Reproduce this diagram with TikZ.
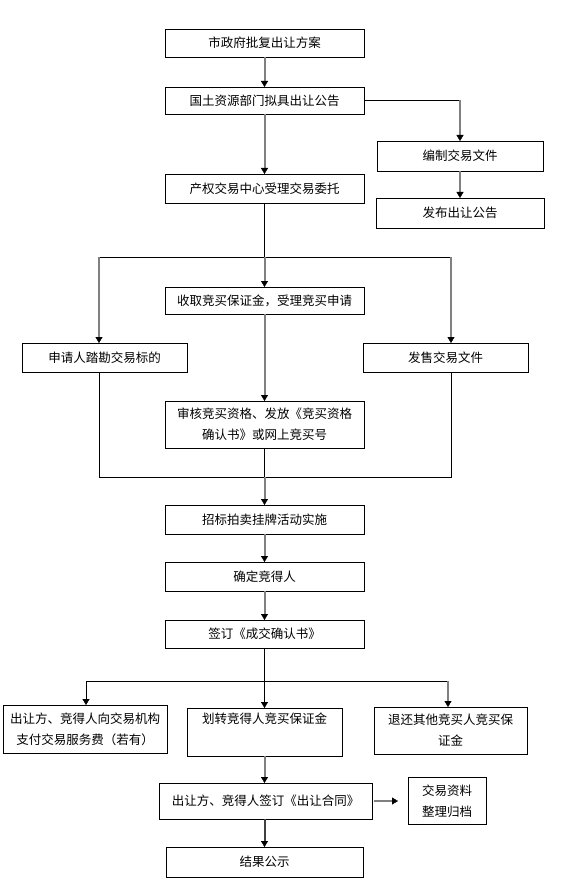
\documentclass[tikz,border=0pt]{standalone}
\usepackage{fontspec}
\setmainfont{Noto Sans CJK SC}
\usetikzlibrary{arrows.meta,positioning,calc}
\definecolor{flowgray}{RGB}{128,128,128}
\definecolor{flowdark}{RGB}{64,64,64}
\tikzset{
  stepbox/.style={draw, line width=0.9pt, align=center, inner sep=2pt, outer sep=0pt,
    minimum height=29pt},
  flow/.style={-{Triangle[width=7pt,length=6pt,line width=0.4pt,color=black]},
    line width=2pt, draw=flowgray},
  blackflow/.style={-{Triangle[width=7pt,length=6pt,line width=0.4pt,color=black]},
    line width=0.9pt, draw=black},
  link/.style={line width=0.9pt, draw=black}
}

\begin{document}
\begin{tikzpicture}[x=1pt, y=1pt, font=\fontsize{12.5}{21}\selectfont]
  \useasboundingbox (0,0) rectangle (587,-882);
  \node[stepbox, minimum width=199pt, minimum height=28pt] (shifu) at (264.5,-43) {市政府批复出让方案};
  \node[stepbox, minimum width=199pt, minimum height=27pt, below=30pt of shifu] (guotu) {国土资源部门拟具出让公告};
  \node[stepbox, minimum width=199pt, below=60pt of guotu] (chanquan) {产权交易中心受理交易委托};
  \node[stepbox, minimum width=166pt, minimum height=30pt] (bianzhi) at (460,-156) {编制交易文件};
  \node[stepbox, minimum width=168pt, minimum height=30pt, below=27pt of bianzhi] (fabu) {发布出让公告};
  \node[stepbox, minimum width=199pt, minimum height=27pt, below=84pt of chanquan] (shouqu) {收取竞买保证金，受理竞买申请};
  \node[stepbox, minimum width=165pt] (shenqing) at (104.5,-357.5) {申请人踏勘交易标的};
  \node[stepbox, minimum width=165pt] (fashou) at (445.5,-357.5) {发售交易文件};
  \node[stepbox, minimum width=199pt, minimum height=47pt, below=87pt of shouqu] (shenhe) {审核竞买资格、发放《竞买资格\\确认书》或网上竞买号};
  \node[stepbox, minimum width=199pt, below=57pt of shenhe] (zhaobiao) {招标拍卖挂牌活动实施};
  \node[stepbox, minimum width=199pt, below=28pt of zhaobiao] (queding) {确定竞得人};
  \node[stepbox, minimum width=199pt, minimum height=28pt, below=29pt of queding] (qianding) {签订《成交确认书》};
  \node[stepbox, minimum width=164pt, minimum height=48pt] (zhichu) at (85,-729) {出让方、竞得人向交易机构\\支付交易服务费（若有）};
  \node[stepbox, minimum width=155pt, minimum height=48pt, below=60pt of qianding] (huazhuan) {划转竞得人竞买保证金\\\strut};
  \node[stepbox, minimum width=153pt, minimum height=47pt] (tuihuan) at (450.5,-730.5) {退还其他竞买人竞买保\\证金};
  \node[stepbox, minimum width=213pt, minimum height=36pt, below=27pt of huazhuan, xshift=1pt] (hetong) {出让方、竞得人签订《出让合同》};
  \node[stepbox, minimum width=78pt, minimum height=47pt, right=36pt of hetong] (ziliao) {交易资料\\整理归档};
  \node[stepbox, minimum width=197pt, minimum height=30pt, below=28pt of hetong, xshift=-1pt] (jieguo) {结果公示};

  \coordinate (c1) at (bianzhi.north |- guotu.east);
  \coordinate (s1) at ($(chanquan.south)+(0,-54)$);
  \coordinate (sl) at (99,-257);
  \coordinate (sr) at (451,-257);
  \coordinate (jl) at (99,-477);
  \coordinate (jr) at (451,-477);
  \coordinate (jm) at (shenhe.south |- jl);
  \coordinate (kl) at (86,-681);
  \coordinate (kr) at (448,-681);
  \coordinate (km) at (qianding.south |- kl);

  \draw[flow] (shifu) -- (guotu);
  \draw[flow] (guotu) -- (chanquan);
  \draw[link] (guotu.east) -- (c1);
  \draw[flow] (c1) -- (bianzhi.north);
  \draw[flow] (bianzhi) -- (fabu);
  \draw[link] (chanquan.south) -- (s1);
  \draw[link] (sl) -- (sr);
  \draw[flow] (sl) -- (sl |- shenqing.north);
  \draw[flow] (s1) -- (shouqu);
  \draw[flow] (sr) -- (sr |- fashou.north);
  \draw[flow] (shouqu) -- (shenhe);
  \draw[link] (jl |- shenqing.south) -- (jl) -- (jr) -- (jr |- fashou.south);
  \draw[link] (shenhe) -- (jm);
  \draw[flow] (jm) -- (zhaobiao);
  \draw[flow] (zhaobiao) -- (queding);
  \draw[flow] (queding) -- (qianding);
  \draw[link] (qianding) -- (km);
  \draw[link] (kl) -- (kr);
  \draw[blackflow] (kl) -- (kl |- zhichu.north);
  \draw[blackflow] (km) -- (huazhuan);
  \draw[flow] (kr) -- (kr |- tuihuan.north);
  \draw[flow] (huazhuan.south) -- (huazhuan.south |- hetong.north);
  \draw[flow, draw=flowdark] (hetong.south -| jieguo.north) -- (jieguo);
  \draw[flow, shorten <=2pt, shorten >=10pt] (hetong) -- (ziliao);
\end{tikzpicture}
\end{document}
